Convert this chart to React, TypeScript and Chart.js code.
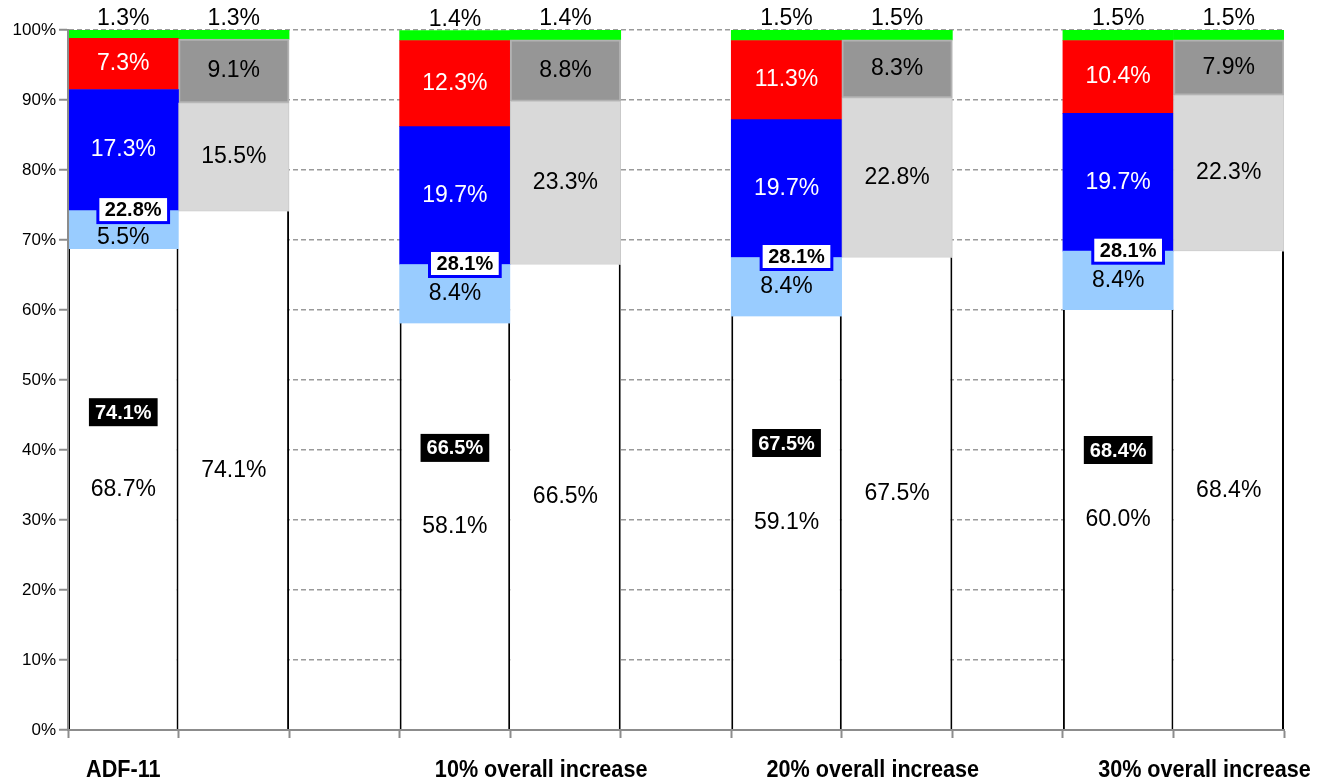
import React, { useEffect, useRef } from 'react';
import { Chart, registerables } from 'chart.js';

Chart.register(...registerables);

const FONT = '"Liberation Sans", Arial, sans-serif';

const groupNames = ['ADF-11', '10% overall increase', '20% overall increase', '30% overall increase'];

// first bar of each group
const whiteA = [68.7, 58.1, 59.1, 60.0];
const lightBlueA = [5.5, 8.4, 8.4, 8.4];
const blueA = [17.3, 19.7, 19.7, 19.7];
const redA = [7.3, 12.3, 11.3, 10.4];
const greenA = [1.3, 1.4, 1.5, 1.5];

// second bar of each group
const whiteB = [74.1, 66.5, 67.5, 68.4];
const lightGrayB = [15.5, 23.3, 22.8, 22.3];
const darkGrayB = [9.1, 8.8, 8.3, 7.9];
const greenB = [1.3, 1.4, 1.5, 1.5];

// callouts
const blackBoxValues = [74.1, 66.5, 67.5, 68.4];
const blackBoxLevels = [45.4, 40.3, 41.0, 40.0];
const blueBoxValues = [22.8, 28.1, 28.1, 28.1];

const SLOT_COUNT = groupNames.length * 3 - 1;

function slots(a: (number | null)[] | null, b: (number | null)[] | null) {
  const out: (number | null)[] = new Array(SLOT_COUNT).fill(null);
  groupNames.forEach((_, g) => {
    if (a) out[g * 3] = a[g];
    if (b) out[g * 3 + 1] = b[g];
  });
  return out;
}

const slotLabels = Array.from({ length: SLOT_COUNT }, (_, i) => (i % 3 === 0 ? groupNames[i / 3] : ''));

const BLUE_BOX_H = 26;

const labelPlugin = {
  id: 'valueLabels',
  afterDatasetsDraw(chart: any) {
    const ctx = chart.ctx;
    const xs = chart.scales.x;
    const ys = chart.scales.y;
    chart.data.datasets.forEach((ds: any, di: number) => {
      const meta = chart.getDatasetMeta(di);
      meta.data.forEach((el: any, i: number) => {
        const v = ds.data[i];
        if (v == null) return;
        const p = el.getProps(['x', 'y', 'base'], true);
        ctx.save();
        ctx.font = '23px ' + FONT;
        ctx.fillStyle = ds.labelColor || '#000';
        ctx.textAlign = 'center';
        ctx.textBaseline = 'middle';
        let ty = ds.labelAbove ? p.y - 11 : (p.y + p.base) / 2;
        if (ds.belowBox) {
          ty = Math.max(ty, p.y + BLUE_BOX_H / 2 + 14);
        }
        ctx.fillText(v.toFixed(1) + '%', p.x, ty);
        ctx.restore();
      });
    });

    const step = xs.getPixelForValue(1) - xs.getPixelForValue(0);
    groupNames.forEach((_, g) => {
      const cx = xs.getPixelForValue(g * 3);
      {
        const txt = blueBoxValues[g].toFixed(1) + '%';
        ctx.save();
        ctx.font = 'bold 20px ' + FONT;
        const w = ctx.measureText(txt).width + 14;
        const h = BLUE_BOX_H;
        const bx = cx + step * 0.09;
        const by = ys.getPixelForValue(whiteA[g] + lightBlueA[g]) - 1;
        ctx.fillStyle = '#fff';
        ctx.fillRect(bx - w / 2, by - h / 2, w, h);
        ctx.strokeStyle = '#0000FF';
        ctx.lineWidth = 3;
        ctx.strokeRect(bx - w / 2, by - h / 2, w, h);
        ctx.fillStyle = '#000';
        ctx.textAlign = 'center';
        ctx.textBaseline = 'middle';
        ctx.fillText(txt, bx, by + 1);
        ctx.restore();
      }
      {
        const txt = blackBoxValues[g].toFixed(1) + '%';
        ctx.save();
        ctx.font = 'bold 20px ' + FONT;
        const w = ctx.measureText(txt).width + 12;
        const h = 28;
        const by = ys.getPixelForValue(blackBoxLevels[g]);
        ctx.fillStyle = '#000';
        ctx.fillRect(cx - w / 2, by - h / 2, w, h);
        ctx.fillStyle = '#fff';
        ctx.textAlign = 'center';
        ctx.textBaseline = 'middle';
        ctx.fillText(txt, cx, by + 1);
        ctx.restore();
      }
    });
  },
  afterDraw(chart: any) {
    const ctx = chart.ctx;
    const xs = chart.scales.x;
    const step = xs.getPixelForValue(1) - xs.getPixelForValue(0);
    const baseY = chart.chartArea.bottom + 47;
    groupNames.forEach((name, g) => {
      const cx = xs.getPixelForValue(g * 3) + (g === 0 ? 0 : step * 0.78);
      ctx.save();
      ctx.font = 'bold 24px ' + FONT;
      ctx.fillStyle = '#000';
      ctx.textAlign = 'center';
      ctx.textBaseline = 'alphabetic';
      ctx.translate(cx, baseY);
      ctx.scale(0.9, 1);
      ctx.fillText(name, 0, 0);
      ctx.restore();
    });
  },
};

export default function App() {
  const ref = useRef<HTMLCanvasElement>(null);
  useEffect(() => {
    const common = { stack: 's', borderSkipped: false as const };
    const chart = new Chart(ref.current as HTMLCanvasElement, {
      type: 'bar',
      data: {
        labels: slotLabels,
        datasets: [
          {
            ...common,
            label: 'base',
            data: slots(whiteA, whiteB),
            backgroundColor: '#FFFFFF',
            borderColor: '#000000',
            inflateAmount: 0,
            borderWidth: (c: any) =>
              c.dataIndex % 3 === 0
                ? { left: 2, right: 2, top: 0, bottom: 0 }
                : { left: 0, right: 2, top: 0, bottom: 0 },
            labelColor: '#000',
          } as any,
          { ...common, label: 'lightblue', data: slots(lightBlueA, null), backgroundColor: '#99CCFF', borderWidth: 0, labelColor: '#000', belowBox: true } as any,
          { ...common, label: 'lightgray', data: slots(null, lightGrayB), backgroundColor: '#D9D9D9', borderColor: '#C8C8C8', borderWidth: 1, labelColor: '#000' } as any,
          { ...common, label: 'blue', data: slots(blueA, null), backgroundColor: '#0000FF', borderWidth: 0, labelColor: '#FFFFFF' } as any,
          { ...common, label: 'darkgray', data: slots(null, darkGrayB), backgroundColor: '#969696', borderColor: '#B2B2B2', borderWidth: 2, labelColor: '#000' } as any,
          { ...common, label: 'red', data: slots(redA, null), backgroundColor: '#FF0000', borderWidth: 0, labelColor: '#FFFFFF' } as any,
          { ...common, label: 'green', data: slots(greenA, greenB), backgroundColor: '#00FF00', borderWidth: 0, labelColor: '#000', labelAbove: true } as any,
        ],
      },
      options: {
        animation: false,
        responsive: true,
        maintainAspectRatio: false,
        layout: { padding: { top: 30, right: 46, left: 0, bottom: 0 } },
        datasets: { bar: { barPercentage: 1, categoryPercentage: 1 } },
        plugins: { legend: { display: false }, tooltip: { enabled: false } },
        scales: {
          x: {
            stacked: true,
            offset: true,
            grid: { display: true, drawOnChartArea: false, drawTicks: true, tickLength: 8, tickColor: '#8C8C8C', tickWidth: 2, offset: true },
            border: { display: true, color: '#8C8C8C', width: 2, z: 1 },
            ticks: { display: false },
            afterFit: (s: any) => { s.height = 48; },
          },
          y: {
            stacked: true,
            min: 0,
            max: 100,
            ticks: {
              stepSize: 10,
              callback: (v: any) => v + '%',
              color: '#000',
              font: { family: FONT, size: 17 },
              padding: 3,
            },
            grid: { color: '#9A9A9A', lineWidth: 1.5, tickLength: 9, tickColor: '#8C8C8C', tickWidth: 2 },
            border: { display: true, color: '#8C8C8C', width: 2, dash: [5, 3], z: 1 },
            afterFit: (s: any) => { s.width = 68; },
          },
        },
      } as any,
      plugins: [labelPlugin],
    });
    return () => chart.destroy();
  }, []);
  return (
    <div style={{ position: 'fixed', left: 0, top: 0, width: 1330, height: 778, background: '#fff' }}>
      <canvas ref={ref} />
    </div>
  );
}
